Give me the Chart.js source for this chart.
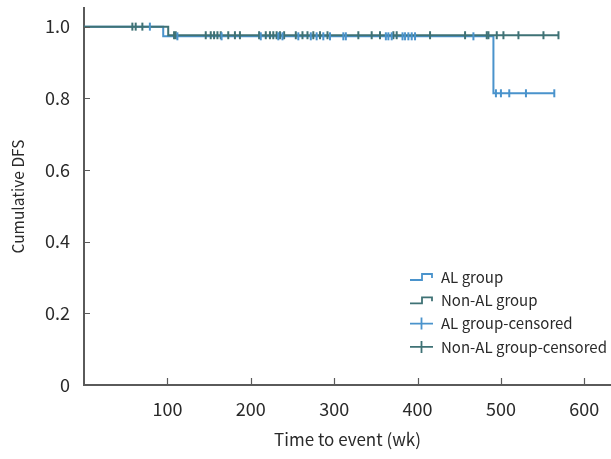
<!DOCTYPE html>
<html>
<head>
<meta charset="utf-8">
<script src="https://cdn.jsdelivr.net/npm/chart.js@4.4.1/dist/chart.umd.min.js"></script>
<style>
  html, body { margin: 0; padding: 0; background: #fff; }
</style>
</head>
<body>
<canvas id="km-chart" width="611" height="459"></canvas>
<script>
// Kaplan-Meier steps (time in weeks, cumulative DFS)
var alStepTimes = [0, 95, 491];
var alStepSurv = [1.0, 0.973, 0.814];
var alLastTime = 564;
var nonAlStepTimes = [0, 101];
var nonAlStepSurv = [1.0, 0.976];
var nonAlLastTime = 569;

// censored observations (weeks)
var alCensored = [79, 112, 165, 212, 233, 238, 257, 272, 279, 287, 295, 311, 314,
  362, 365, 369, 382, 385, 389, 393, 397, 467, 494, 500, 510, 530, 564];
var nonAlCensored = [58, 62, 70, 108, 110, 146, 152, 156, 160, 164, 173, 181, 187,
  210, 218, 223, 227, 231, 235, 240, 254, 262, 268, 275, 283, 292, 329, 345, 355,
  371, 375, 415, 457, 483, 485, 495, 503, 521, 551, 569];

var xTickValues = [100, 200, 300, 400, 500, 600];
var yTickValues = [0, 0.2, 0.4, 0.6, 0.8, 1.0];

var alColor = '#4a93cc';
var nonAlColor = '#3f7275';
var axisColor = '#5a5a5a';
var textColor = '#2a2a2a';
var fontFamily = '"Noto Sans CJK KR", "Noto Sans", sans-serif';

function stepPoints(times, surv, last) {
  var pts = [];
  for (var i = 0; i < times.length; i++) pts.push({x: times[i], y: surv[i]});
  pts.push({x: last, y: surv[surv.length - 1]});
  return pts;
}

// survival value of the curve at time t
function survAt(times, surv, t) {
  var v = surv[0];
  for (var i = 0; i < times.length; i++) if (times[i] <= t) v = surv[i];
  return v;
}

function censorPoints(list, times, surv) {
  return list.map(function (t) { return {x: t, y: survAt(times, surv, t)}; });
}

// tick marks drawn inward from the axis lines
var innerTicks = {
  id: 'innerTicks',
  afterDraw: function (chart) {
    var ctx = chart.ctx, xs = chart.scales.x, ys = chart.scales.y;
    var area = chart.chartArea;
    ctx.save();
    ctx.strokeStyle = axisColor;
    ctx.lineWidth = 1.2;
    ctx.beginPath();
    xTickValues.forEach(function (v) {
      var px = Math.round(xs.getPixelForValue(v)) + 0.5;
      ctx.moveTo(px, area.bottom);
      ctx.lineTo(px, area.bottom - 7);
    });
    yTickValues.forEach(function (v) {
      if (v === 0) return;
      var py = Math.round(ys.getPixelForValue(v)) + 0.5;
      ctx.moveTo(area.left, py);
      ctx.lineTo(area.left + 6, py);
    });
    ctx.stroke();
    ctx.restore();
  }
};

// legend inside the plot, lower right
var kmLegend = {
  id: 'kmLegend',
  afterDraw: function (chart) {
    var ctx = chart.ctx;
    var area = chart.chartArea;
    var x0 = area.right - 201;
    var y0 = area.bottom - 108;
    var rows = [
      {label: 'AL group', color: alColor, kind: 'step'},
      {label: 'Non-AL group', color: nonAlColor, kind: 'step'},
      {label: 'AL group-censored', color: alColor, kind: 'cross'},
      {label: 'Non-AL group-censored', color: nonAlColor, kind: 'cross'}
    ];
    ctx.save();
    ctx.font = '15px ' + fontFamily;
    ctx.textBaseline = 'middle';
    rows.forEach(function (r, i) {
      var y = y0 + i * 23.3;
      ctx.strokeStyle = r.color;
      ctx.lineWidth = 1.8;
      ctx.beginPath();
      if (r.kind === 'step') {
        ctx.moveTo(x0, y + 3);
        ctx.lineTo(x0 + 12, y + 3);
        ctx.lineTo(x0 + 12, y - 3);
        ctx.lineTo(x0 + 22, y - 3);
        ctx.lineTo(x0 + 22, y + 1);
      } else {
        ctx.moveTo(x0, y);
        ctx.lineTo(x0 + 23, y);
        ctx.moveTo(x0 + 11.5, y - 6);
        ctx.lineTo(x0 + 11.5, y + 6);
      }
      ctx.stroke();
      ctx.fillStyle = textColor;
      ctx.fillText(r.label, x0 + 31, y);
    });
    ctx.restore();
  }
};

var ctx = document.getElementById('km-chart').getContext('2d');
var chart = new Chart(ctx, {
  data: {
    datasets: [
      {
        type: 'line',
        label: 'AL group',
        data: stepPoints(alStepTimes, alStepSurv, alLastTime),
        stepped: true,
        borderColor: alColor,
        borderWidth: 2,
        pointRadius: 0,
        fill: false,
        order: 2
      },
      {
        type: 'line',
        label: 'Non-AL group',
        data: stepPoints(nonAlStepTimes, nonAlStepSurv, nonAlLastTime),
        stepped: true,
        borderColor: nonAlColor,
        borderWidth: 2,
        pointRadius: 0,
        fill: false,
        order: 1
      },
      {
        type: 'scatter',
        label: 'AL group-censored',
        data: censorPoints(alCensored, alStepTimes, alStepSurv),
        pointStyle: 'line',
        rotation: 90,
        radius: 4,
        borderColor: alColor,
        borderWidth: 2,
        order: 0
      },
      {
        type: 'scatter',
        label: 'Non-AL group-censored',
        data: censorPoints(nonAlCensored, nonAlStepTimes, nonAlStepSurv),
        pointStyle: 'line',
        rotation: 90,
        radius: 4,
        borderColor: nonAlColor,
        borderWidth: 2,
        order: 0
      }
    ]
  },
  options: {
    responsive: false,
    animation: false,
    layout: { autoPadding: false, padding: { top: 8, right: 0, bottom: 0, left: 0 } },
    plugins: {
      legend: { display: false },
      tooltip: { enabled: false }
    },
    scales: {
      x: {
        type: 'linear',
        min: 0,
        max: 632,
        afterBuildTicks: function (s) {
          s.ticks = xTickValues.map(function (v) { return {value: v}; });
        },
        afterFit: function (s) { s.height = 74; s.paddingLeft = 0; s.paddingRight = 0; },
        grid: { display: false, drawTicks: false },
        border: { display: true, color: axisColor, width: 2 },
        ticks: {
          padding: 13,
          color: textColor,
          font: { family: fontFamily, size: 18 },
          maxRotation: 0
        },
        title: {
          display: true,
          text: 'Time to event (wk)',
          color: textColor,
          font: { family: fontFamily, size: 17 },
          padding: { top: 0, bottom: 9 }
        }
      },
      y: {
        type: 'linear',
        min: 0,
        max: 1.052,
        afterBuildTicks: function (s) {
          s.ticks = yTickValues.map(function (v) { return {value: v}; });
        },
        afterFit: function (s) { s.width = 84; s.paddingTop = 0; s.paddingBottom = 0; },
        grid: { display: false, drawTicks: false },
        border: { display: true, color: axisColor, width: 2 },
        ticks: {
          padding: 14,
          color: textColor,
          font: { family: fontFamily, size: 18 },
          callback: function (v) { return v === 0 ? '0' : v.toFixed(1); }
        },
        title: {
          display: true,
          text: 'Cumulative DFS',
          color: textColor,
          font: { family: fontFamily, size: 15.5 },
          padding: { top: 9, bottom: 0 }
        }
      }
    }
  },
  plugins: [innerTicks, kmLegend]
});
</script>
</body>
</html>
